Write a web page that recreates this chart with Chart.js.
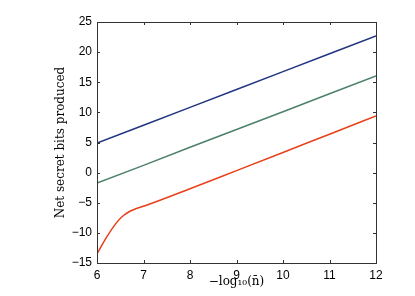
<!DOCTYPE html>
<html>
<head>
<meta charset="utf-8">
<script src="https://cdn.jsdelivr.net/npm/chart.js@4.4.0/dist/chart.umd.min.js"></script>
<style>
  html, body { margin: 0; padding: 0; background: #fff; }
  #wrap { width: 415px; height: 296px; }
</style>
</head>
<body>
<div id="wrap"><canvas id="chart"></canvas></div>
<script>
// values
const blueX = [6, 7, 8, 9, 10, 11, 12];
const blueY = [4.9, 7.87, 10.83, 13.8, 16.77, 19.73, 22.7];

const greenX = [6, 7, 8, 9, 10, 11, 12];
const greenY = [-1.75, 1.2, 4.2, 7.15, 10.1, 13.1, 16.05];

const redX = [6, 6.2, 6.4, 6.55, 6.7, 6.85, 7.05, 8, 9, 10, 11, 12];
const redY = [-13.5, -10.8, -8.5, -7.25, -6.45, -5.95, -5.45, -2.68, 0.33, 3.35, 6.38, 9.4];

const xTicks = [6, 7, 8, 9, 10, 11, 12];
const yTicks = [-15, -10, -5, 0, 5, 10, 15, 20, 25];

const toPoints = (xs, ys) => xs.map((x, i) => ({ x: x, y: ys[i] }));

// matlab style box with inward ticks on all four sides
const boxPlugin = {
	id: 'box',
	afterDraw(chart) {
		const ctx = chart.ctx;
		const a = chart.chartArea;
		const xs = chart.scales.x;
		const ys = chart.scales.y;
		const len = 3;
		ctx.save();
		ctx.strokeStyle = '#333';
		ctx.lineWidth = 1;
		ctx.beginPath();
		xTicks.forEach(v => {
			const px = Math.round(xs.getPixelForValue(v)) + 0.5;
			ctx.moveTo(px, a.bottom); ctx.lineTo(px, a.bottom - len);
			ctx.moveTo(px, a.top); ctx.lineTo(px, a.top + len);
		});
		yTicks.forEach(v => {
			const py = Math.round(ys.getPixelForValue(v)) + 0.5;
			ctx.moveTo(a.left, py); ctx.lineTo(a.left + len, py);
			ctx.moveTo(a.right, py); ctx.lineTo(a.right - len, py);
		});
		ctx.stroke();
		ctx.strokeRect(Math.round(a.left) + 0.5, Math.round(a.top) + 0.5,
			Math.round(a.right - a.left), Math.round(a.bottom - a.top));
		ctx.restore();
	}
};

const minusSign = v => String(v).replace('-', '\u2212');

new Chart(document.getElementById('chart').getContext('2d'), {
	type: 'line',
	data: {
		datasets: [
			{ data: toPoints(blueX, blueY), borderColor: 'rgb(32, 52, 128)' },
			{ data: toPoints(greenX, greenY), borderColor: 'rgb(76, 128, 104)' },
			{ data: toPoints(redX, redY), borderColor: 'rgb(232, 64, 24)', cubicInterpolationMode: 'monotone' }
		]
	},
	options: {
		responsive: true,
		maintainAspectRatio: false,
		animation: false,
		layout: { padding: { left: 0, right: 39, top: 22, bottom: 0 } },
		elements: {
			point: { radius: 0 },
			line: { borderWidth: 1.5, fill: false }
		},
		plugins: {
			legend: { display: false },
			tooltip: { enabled: false }
		},
		scales: {
			x: {
				type: 'linear',
				min: 6, max: 12,
				afterFit: s => { s.height = 33; },
				grid: { display: false, drawTicks: false },
				border: { display: false },
				ticks: {
					stepSize: 1, padding: 5, color: '#000', maxRotation: 0,
					font: { family: 'Liberation Sans, Arial, sans-serif', size: 12 }
				},
				title: {
					display: true,
					text: '\u2212log\u2081\u2080(n\u0304)',
					color: '#000',
					font: { family: 'DejaVu Serif, Liberation Serif, serif', size: 12 },
					padding: { top: 0, bottom: 7 }
				}
			},
			y: {
				min: -15, max: 25,
				afterFit: s => { s.width = 97; },
				grid: { display: false, drawTicks: false },
				border: { display: false },
				ticks: {
					stepSize: 5, padding: 5, color: '#000',
					font: { family: 'Liberation Sans, Arial, sans-serif', size: 12 },
					callback: v => minusSign(v)
				},
				title: {
					display: true,
					text: 'Net secret bits produced',
					color: '#000',
					font: { family: 'DejaVu Serif, Liberation Serif, serif', size: 12 },
					padding: { top: 54, bottom: 0 }
				}
			}
		}
	},
	plugins: [boxPlugin]
});
</script>
</body>
</html>
